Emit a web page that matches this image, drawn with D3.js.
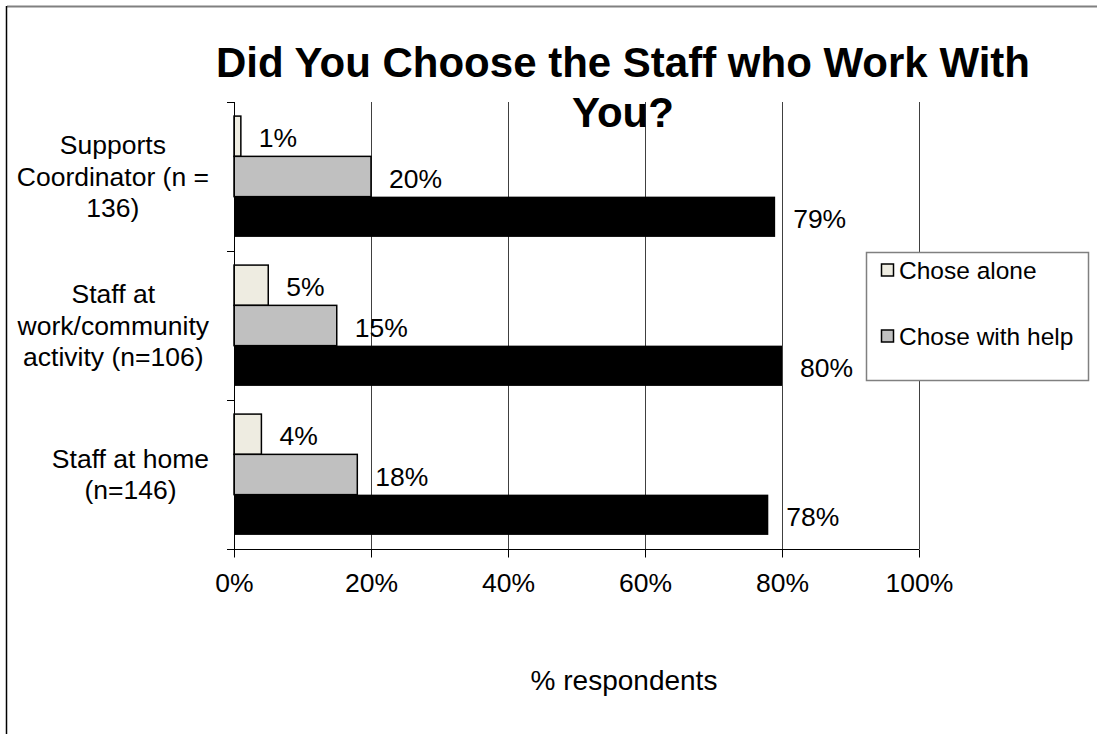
<!DOCTYPE html>
<html>
<head>
<meta charset="utf-8">
<script src="https://cdn.jsdelivr.net/npm/d3@7"></script>
<style>
  html, body { margin: 0; padding: 0; background: #fff; }
  svg { display: block; font-family: "Liberation Sans", Arial, sans-serif; }
</style>
</head>
<body>
<svg id="chart" width="1097" height="734"></svg>
<script>
// Survey question: who chose the staff that work with the respondent
const categories = [
  ["Supports", "Coordinator (n =", "136)"],
  ["Staff at", "work/community", "activity (n=106)"],
  ["Staff at home", "(n=146)"]
];
const seriesNames = ["Chose alone", "Chose with help", "Did not choose"];
const choseAlone    = [1, 5, 4];
const choseWithHelp = [20, 15, 18];
const didNotChoose  = [79, 80, 78];
const xTicks = [0, 20, 40, 60, 80, 100];
const titleLines = ["Did You Choose the Staff who Work With", "You?"];
const xAxisTitle = "% respondents";

const seriesValues = [choseAlone, choseWithHelp, didNotChoose];
const seriesFill = ["#EEECE1", "#C0C0C0", "#000000"];
const legendShown = 2; // only the first two entries fit in the legend box

const svg = d3.select("#chart");

const plot = { left: 234, right: 919, top: 102, bottom: 549 };

const x = d3.scaleLinear().domain([0, 100]).range([plot.left, plot.right]);
const yCat = d3.scaleBand()
  .domain(d3.range(categories.length))
  .range([plot.top, plot.bottom])
  .padding(0);
const ySer = d3.scaleBand()
  .domain(d3.range(seriesNames.length))
  .range([0, yCat.bandwidth()])
  .paddingOuter(0.35)
  .paddingInner(0);

// outer frame (top and left edges visible)
svg.append("line").attr("x1", 7).attr("x2", 1097).attr("y1", 6.5).attr("y2", 6.5)
  .attr("stroke", "#808080").attr("stroke-width", 2);
svg.append("line").attr("x1", 6.5).attr("x2", 6.5).attr("y1", 6).attr("y2", 734)
  .attr("stroke", "#000").attr("stroke-width", 1.5);

// vertical gridlines
svg.append("g").selectAll("line")
  .data(xTicks.filter(d => d > 0))
  .join("line")
  .attr("x1", d => Math.round(x(d)) + 0.5).attr("x2", d => Math.round(x(d)) + 0.5)
  .attr("y1", plot.top).attr("y2", plot.bottom)
  .attr("stroke", "#404040").attr("stroke-width", 1);

// bars
const groups = svg.append("g").selectAll("g")
  .data(categories.map((c, i) => i))
  .join("g")
  .attr("transform", i => `translate(0,${yCat(i)})`);

groups.selectAll("rect")
  .data(i => seriesValues.map((vals, s) => ({ s, v: vals[i] })))
  .join("rect")
  .attr("x", x(0))
  .attr("y", d => ySer(d.s))
  .attr("width", d => x(d.v) - x(0))
  .attr("height", ySer.bandwidth())
  .attr("fill", d => seriesFill[d.s])
  .attr("stroke", "#000")
  .attr("stroke-width", d => d.s === 2 ? 0 : 1.5);

// value labels
groups.selectAll("text")
  .data(i => seriesValues.map((vals, s) => ({ s, v: vals[i] })))
  .join("text")
  .attr("x", d => x(d.v) + 18)
  .attr("y", d => ySer(d.s) + ySer.bandwidth() / 2 + 2)
  .attr("dominant-baseline", "central")
  .attr("font-size", 26.5)
  .attr("fill", "#000")
  .text(d => d.v + "%");

// y axis line with category ticks
svg.append("line").attr("x1", plot.left + 0.5).attr("x2", plot.left + 0.5)
  .attr("y1", plot.top).attr("y2", plot.bottom).attr("stroke", "#000");
svg.append("g").selectAll("line")
  .data(d3.range(categories.length + 1))
  .join("line")
  .attr("x1", plot.left - 7).attr("x2", plot.left)
  .attr("y1", i => Math.round(plot.top + i * yCat.step()) + 0.5)
  .attr("y2", i => Math.round(plot.top + i * yCat.step()) + 0.5)
  .attr("stroke", "#000");

// category labels: each wrapped block sits against the axis, lines centred in it
const catLabels = svg.append("g");
const labelRight = 209;
categories.forEach((lines, i) => {
  const cy = yCat(i) + yCat.bandwidth() / 2;
  const lh = 31.5;
  const t = catLabels.append("text")
    .attr("text-anchor", "middle")
    .attr("font-size", 26.5)
    .attr("fill", "#000");
  const spans = lines.map((ln, k) => t.append("tspan")
    .attr("y", cy + (k - (lines.length - 1) / 2) * lh)
    .attr("dominant-baseline", "central")
    .text(ln));
  const maxW = d3.max(spans, s => s.node().getComputedTextLength());
  spans.forEach(s => s.attr("x", labelRight - maxW / 2));
});

// x axis
const xAxis = svg.append("g")
  .attr("transform", `translate(0,${plot.bottom + 0.5})`)
  .call(d3.axisBottom(x).tickValues(xTicks).tickSize(8).tickPadding(16)
    .tickFormat(d => d + "%"));
xAxis.select(".domain").remove();
xAxis.append("line").attr("x1", plot.left - 7).attr("x2", plot.right).attr("stroke", "#000");
xAxis.selectAll(".tick line").attr("stroke", "#000");
xAxis.selectAll(".tick text")
  .attr("font-size", 26.5).attr("font-family", "'Liberation Sans', Arial, sans-serif")
  .attr("fill", "#000");

// axis title
svg.append("text")
  .attr("x", 624).attr("y", 680)
  .attr("text-anchor", "middle").attr("dominant-baseline", "central")
  .attr("font-size", 28).attr("fill", "#000")
  .text(xAxisTitle);

// chart title
const title = svg.append("text")
  .attr("text-anchor", "middle")
  .attr("font-size", 42).attr("font-weight", "bold").attr("fill", "#000");
titleLines.forEach((ln, k) => {
  title.append("tspan").attr("x", 623).attr("y", 77 + k * 50).text(ln);
});

// legend
const legend = svg.append("g");
legend.append("rect")
  .attr("x", 866.5).attr("y", 252.5).attr("width", 222).attr("height", 128)
  .attr("fill", "#fff").attr("stroke", "#808080").attr("stroke-width", 1.5);
const legendY = d3.scalePoint().domain(d3.range(legendShown)).range([270.5, 336.5]);
d3.range(legendShown).forEach(s => {
  legend.append("rect")
    .attr("x", 881.5).attr("y", legendY(s) - 6.5).attr("width", 12).attr("height", 12)
    .attr("fill", seriesFill[s]).attr("stroke", "#000").attr("stroke-width", 1.5);
  legend.append("text")
    .attr("x", 899).attr("y", legendY(s))
    .attr("dominant-baseline", "central")
    .attr("font-size", 24.5).attr("fill", "#000")
    .text(seriesNames[s]);
});
</script>
</body>
</html>
